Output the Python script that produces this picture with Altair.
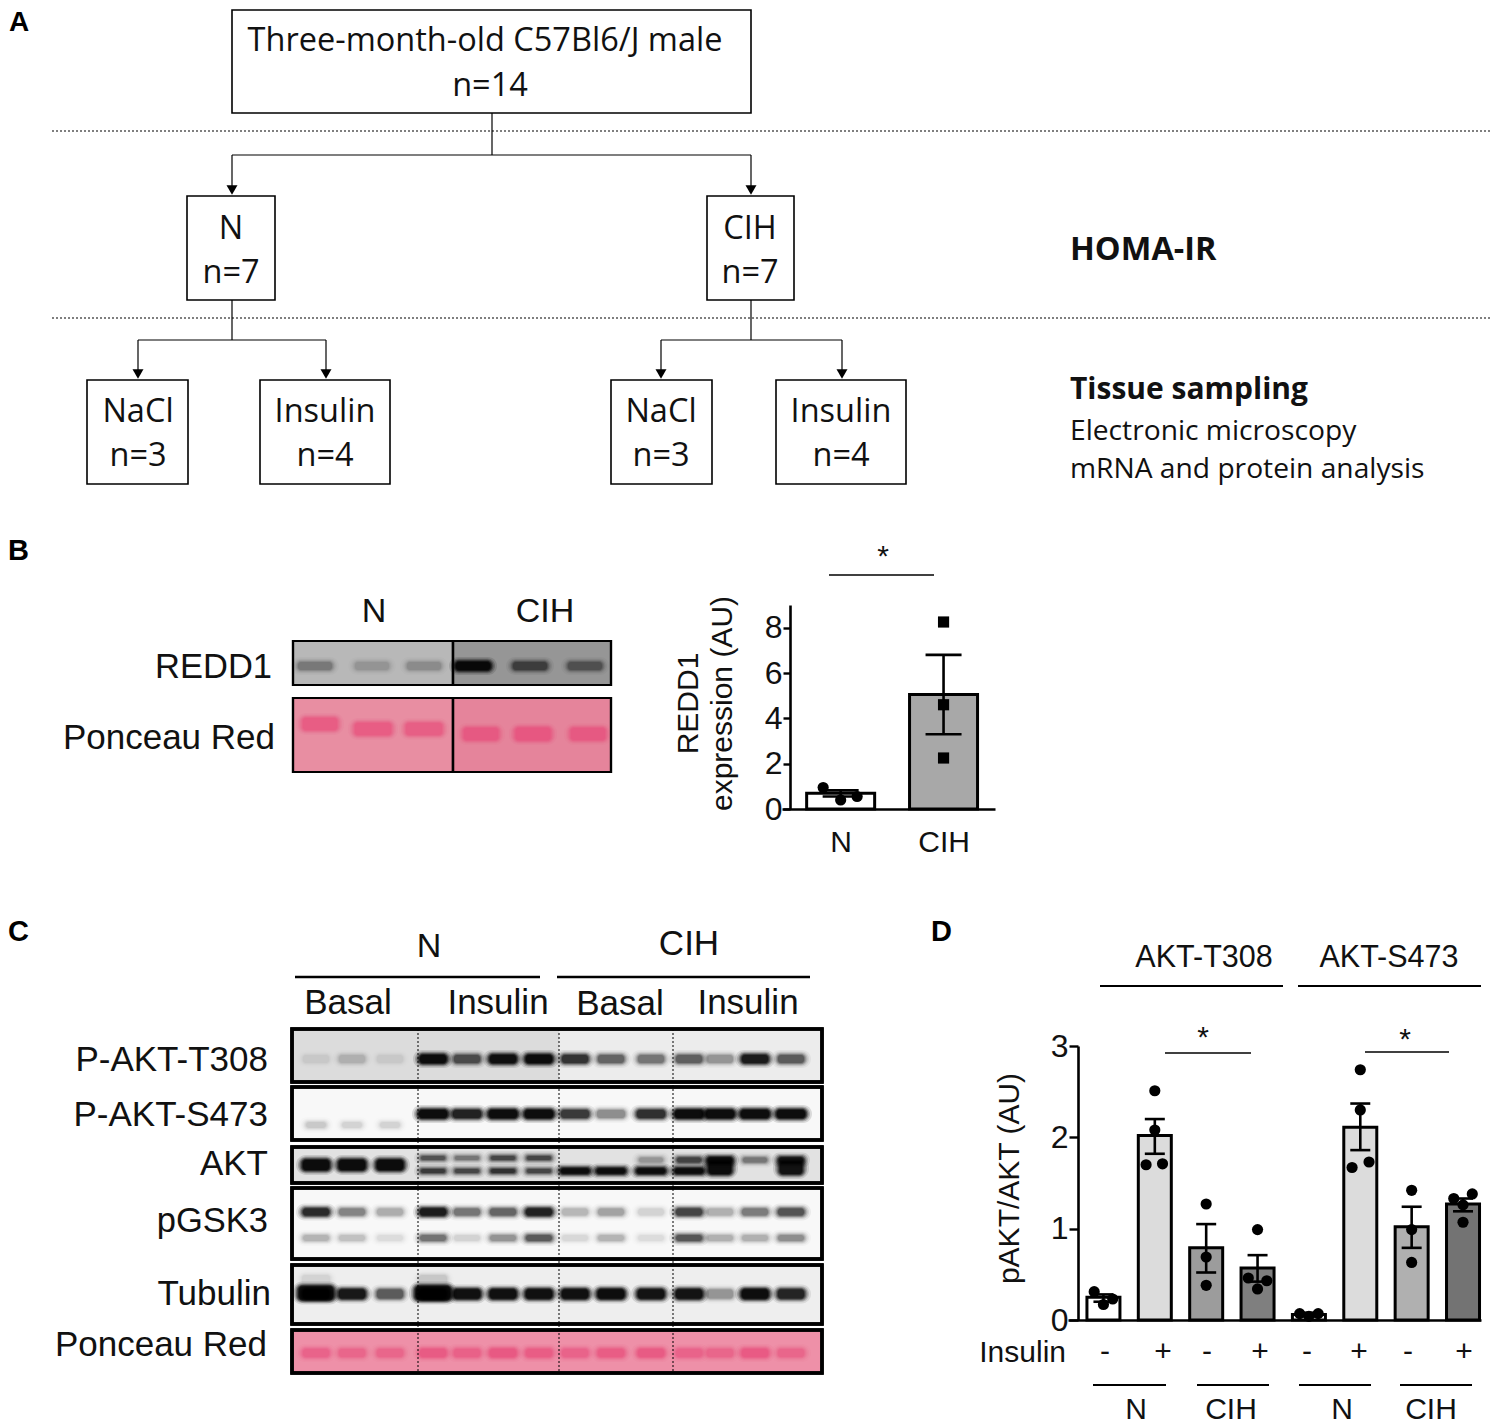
import altair as alt
import pandas as pd

SANS = "Liberation Sans"
FLOW = "Open Sans"

# ---------- panel B values
b_groups = [0, 1]
b_means = [0.7, 5.05]
b_low = [0.55, 3.3]
b_high = [0.82, 6.8]
b_fill = ["#ffffff", "#a8a8a8"]
b_n_x = [-0.17, 0.0, 0.16]
b_n_y = [0.95, 0.4, 0.55]
b_cih_x = [1, 1, 1]
b_cih_y = [8.25, 4.6, 2.25]

# ---------- panel D values
d_groups = list(range(8))
d_means = [0.25, 2.02, 0.79, 0.57, 0.06, 2.11, 1.02, 1.27]
d_low = [0.2, 1.82, 0.52, 0.42, 0.04, 1.86, 0.79, 1.19]
d_high = [0.28, 2.2, 1.05, 0.71, 0.08, 2.37, 1.24, 1.33]
d_fill = ["#ffffff", "#dcdcdc", "#9c9c9c", "#7f7f7f", "#ffffff", "#dcdcdc", "#b0b0b0", "#737373"]
d_pts_x = [-0.18, 0, 0.18, 1, 1, 0.83, 1.15, 2, 2, 2, 3, 2.82, 3.18, 3, 3.82, 4, 4.18,
           5, 5, 4.84, 5.17, 6, 6, 6, 6.82, 7.18, 7, 7]
d_pts_y = [0.31, 0.17, 0.23, 2.51, 2.08, 1.70, 1.71, 1.27, 0.69, 0.38, 0.99, 0.46, 0.43, 0.34,
           0.07, 0.04, 0.07, 2.74, 2.30, 1.67, 1.73, 1.42, 0.99, 0.63, 1.33, 1.38, 1.26, 1.07]

# ---------- blot bands: lane intensities per antibody
c_lanes = [316, 352, 390, 433, 467, 503, 539, 575, 611, 651, 689, 720, 755, 791]
b_lanes = [315, 372, 424, 473, 530, 585]
blots = [
    # y, height, width, colour, lanes, intensity
    (666, 8, 34, "#000000", b_lanes, [0.18, 0.09, 0.12, 1.0, 0.38, 0.27]),
    (724, 12, 34, "#e8527f", [320], [0.65]),
    (729, 12, 36, "#e8527f", [373, 424], [0.65, 0.6]),
    (734, 12, 34, "#e8527f", [481, 533, 588], [0.7, 0.85, 0.7]),
    (1059, 8, 26, "#000000", c_lanes, [0.04, 0.1, 0.04, 1.0, 0.45, 0.95, 1.0, 0.6, 0.36, 0.3, 0.38, 0.2, 0.8, 0.4]),
    (1114, 8, 28, "#000000", c_lanes, [0.0, 0.0, 0.0, 1.0, 0.75, 1.0, 1.0, 0.58, 0.24, 0.64, 1.0, 1.0, 1.0, 1.0]),
    (1125, 6, 20, "#000000", c_lanes[:3], [0.09, 0.07, 0.07]),
    (1165, 10, 26, "#000000", c_lanes[:3], [1.0, 1.0, 1.0]),
    (1158, 4, 24, "#000000", c_lanes[3:7], [0.42, 0.28, 0.48, 0.48]),
    (1171, 4, 24, "#000000", c_lanes[3:7], [0.55, 0.48, 0.6, 0.48]),
    (1171, 5, 28, "#000000", c_lanes[7:11], [1.0, 1.0, 1.0, 1.0]),
    (1160, 5, 24, "#000000", c_lanes[9:], [0.18, 0.5, 1.0, 0.28, 0.85]),
    (1168, 12, 22, "#000000", [720, 791], [1.0, 0.9]),
    (1212, 7, 26, "#000000", c_lanes, [0.68, 0.27, 0.16, 0.82, 0.32, 0.38, 0.75, 0.13, 0.18, 0.07, 0.52, 0.15, 0.3, 0.45]),
    (1238, 6, 26, "#000000", c_lanes, [0.14, 0.11, 0.05, 0.33, 0.07, 0.22, 0.42, 0.06, 0.14, 0.05, 0.44, 0.15, 0.15, 0.24]),
    (1294, 9, 26, "#000000", c_lanes, [1.0, 0.85, 0.4, 1.0, 0.95, 0.95, 0.95, 0.95, 1.0, 0.9, 0.9, 0.2, 1.0, 0.72]),
    (1293, 13, 34, "#000000", [316, 433], [0.9, 1.0]),
    (1280, 10, 28, "#000000", [316, 433], [0.05, 0.08]),
    (1353, 8, 26, "#e8527f", c_lanes, [0.5, 0.45, 0.45, 0.7, 0.55, 0.8, 0.65, 0.5, 0.65, 0.7, 0.5, 0.45, 0.75, 0.45]),
]

band_rows = []
for y, h, w, col, xs, ints in blots:
    for x, i in zip(xs, ints):
        if i > 0:
            band_rows.append({"cx": x, "cy": y, "h": h, "w": w, "c": col, "i": i})
bands = pd.DataFrame(band_rows)

# ---------- flow chart and blot frames
boxes = [
    (232, 751, 10, 113, "#ffffff", 1.6), (187, 275, 196, 300, "#ffffff", 1.6), (707, 794, 196, 300, "#ffffff", 1.6),
    (87, 188, 380, 484, "#ffffff", 1.6), (260, 390, 380, 484, "#ffffff", 1.6),
    (611, 712, 380, 484, "#ffffff", 1.6), (776, 906, 380, 484, "#ffffff", 1.6),
    (293, 453, 641, 685, "#b8b8b8", 2.2), (453, 611, 641, 685, "#969696", 2.2),
    (293, 453, 698, 772, "#e88ea2", 2.2), (453, 611, 698, 772, "#e5849b", 2.2),
    (292, 559, 1029, 1082, "#dcdcdc", 0), (559, 822, 1029, 1082, "#ececec", 0),
    (292, 822, 1029, 1082, "#00000000", 3.5), (292, 822, 1087, 1140, "#f8f8f8", 3.5),
    (292, 822, 1147, 1183, "#e2e2e2", 3.5), (292, 822, 1188, 1259, "#f8f8f8", 3.5),
    (292, 822, 1265, 1324, "#eeeeee", 3.5), (292, 822, 1330, 1373, "#ee90a8", 3.5),
]
lines = [
    (492, 492, 113, 155, 1.2), (232, 751, 155, 155, 1.2), (232, 232, 155, 190, 1.2), (751, 751, 155, 190, 1.2),
    (232, 232, 300, 340, 1.2), (138, 326, 340, 340, 1.2), (138, 138, 340, 372, 1.2), (326, 326, 340, 372, 1.2),
    (751, 751, 300, 340, 1.2), (661, 842, 340, 340, 1.2), (661, 661, 340, 372, 1.2), (842, 842, 340, 372, 1.2),
    (829, 934, 575, 575, 1.3),
    (295, 540, 977, 977, 2.5), (557, 810, 977, 977, 2.5),
    (1100, 1283, 986, 986, 2.2), (1298, 1481, 986, 986, 2.2),
    (1165, 1251, 1053, 1053, 1.3), (1365, 1449, 1052, 1052, 1.3),
    (1093, 1166, 1385, 1385, 2.2), (1197, 1269, 1385, 1385, 2.2), (1299, 1371, 1385, 1385, 2.2), (1400, 1472, 1385, 1385, 2.2),
]
dotted = [
    (52, 1490, 131, 131, 1.1), (52, 1490, 318, 318, 1.1),
    (418, 418, 1029, 1373, 1.0), (559, 559, 1029, 1373, 1.0), (673, 673, 1029, 1373, 1.0),
]
arrows = [(232, 190), (751, 190), (138, 374), (326, 374), (661, 374), (842, 374)]

flow_text = [
    ("Three-month-old C57Bl6/J male", 485, 41, 32.5), ("n=14", 490, 86, 32.5),
    ("N", 231, 229, 32.5), ("n=7", 231, 273, 32.5), ("CIH", 750, 229, 32.5), ("n=7", 750, 273, 32.5),
    ("NaCl", 138, 412, 32.5), ("n=3", 138, 456, 32.5), ("Insulin", 325, 412, 32.5), ("n=4", 325, 456, 32.5),
    ("NaCl", 661, 412, 32.5), ("n=3", 661, 456, 32.5), ("Insulin", 841, 412, 32.5), ("n=4", 841, 456, 32.5),
]
flow_left = [("Electronic microscopy", 1070, 432, 28.2), ("mRNA and protein analysis", 1070, 470, 28.2)]
flow_bold = [("HOMA-IR", 1070, 250, 32.5), ("Tissue sampling", 1070, 390, 30)]
letters = [("A", 9, 23, 28), ("B", 8, 551, 29), ("C", 8, 932, 29), ("D", 931, 932, 29)]
center_text = [
    ("*", 883, 557, 30), ("N", 374, 612, 34), ("CIH", 545, 612, 34),
    ("N", 429, 947, 34), ("CIH", 689, 944, 35),
    ("Basal", 348, 1003, 35), ("Insulin", 498, 1003, 35), ("Basal", 620, 1004, 35), ("Insulin", 748, 1003, 35),
    ("AKT-T308", 1204, 958, 30.5), ("AKT-S473", 1389, 958, 30.5),
    ("*", 1203, 1038, 30), ("*", 1405, 1040, 30),
    ("-", 1105, 1352, 30), ("+", 1163, 1352, 30), ("-", 1207, 1352, 30), ("+", 1260, 1352, 30),
    ("-", 1307, 1352, 30), ("+", 1359, 1352, 30), ("-", 1408, 1352, 30), ("+", 1464, 1352, 30),
    ("N", 1136, 1410, 30), ("CIH", 1231, 1410, 30), ("N", 1342, 1410, 30), ("CIH", 1431, 1410, 30),
]
right_text = [
    ("REDD1", 272, 668, 34.5), ("Ponceau Red", 275, 738, 35),
    ("P-AKT-T308", 268, 1060, 35), ("P-AKT-S473", 268, 1115, 35), ("AKT", 268, 1164, 35),
    ("pGSK3", 268, 1222, 34.5), ("Tubulin", 271, 1294, 35), ("Ponceau Red", 267, 1345, 35),
    ("Insulin", 1066, 1353, 30),
]

# ---------- canvas scales
H = 1418
CX = alt.Scale(domain=[8, 1492], range=[0, 1484], nice=False, zero=False)
CY = alt.Scale(domain=[8, 8 + H], range=[0, H], nice=False, zero=False)


def X(f):
    return alt.X(f + ":Q", scale=CX, axis=None)


def Y(f):
    return alt.Y(f + ":Q", scale=CY, axis=None)


def texts(rows, font, align="center", weight="normal", color="#111111"):
    df = pd.DataFrame(rows, columns=["t", "x", "y", "s"])
    return alt.Chart(df).mark_text(font=font, align=align, baseline="middle", fontWeight=weight, color=color).encode(
        x=X("x"), y=Y("y"), text="t:N", size=alt.Size("s:Q", scale=None))


box_df = pd.DataFrame(boxes, columns=["x", "x2", "y", "y2", "f", "sw"])
line_df = pd.DataFrame(lines, columns=["x", "x2", "y", "y2", "sw"])
dot_df = pd.DataFrame(dotted, columns=["x", "x2", "y", "y2", "sw"])
arrow_df = pd.DataFrame(arrows, columns=["x", "y"])

box_layer = alt.Chart(box_df).mark_rect(stroke="#000000").encode(
    x=X("x"), x2="x2:Q", y=Y("y"), y2="y2:Q",
    fill=alt.Fill("f:N", scale=None), strokeWidth=alt.StrokeWidth("sw:Q", scale=None))

line_layer = alt.Chart(line_df).mark_rule(color="#000000").encode(
    x=X("x"), x2="x2:Q", y=Y("y"), y2="y2:Q", strokeWidth=alt.StrokeWidth("sw:Q", scale=None))
dot_layer = alt.Chart(dot_df).mark_rule(color="#000000", strokeDash=[2, 2]).encode(
    x=X("x"), x2="x2:Q", y=Y("y"), y2="y2:Q", strokeWidth=alt.StrokeWidth("sw:Q", scale=None))
arrow_layer = alt.Chart(arrow_df).mark_point(shape="triangle-down", filled=True, color="#000000", size=120, opacity=1).encode(
    x=X("x"), y=Y("y"))

band_layers = []
for grow, a in [(7, 0.12), (5, 0.2), (3.5, 0.3), (2.2, 0.42), (1, 0.5), (0, 0.6)]:
    band_layers.append(
        alt.Chart(bands).transform_calculate(
            x0=f"datum.cx - datum.w/2 - {grow}", x1=f"datum.cx + datum.w/2 + {grow}",
            y0=f"datum.cy - datum.h/2 - {grow * 0.7}", y1=f"datum.cy + datum.h/2 + {grow * 0.7}",
            o=f"datum.i * {a}",
        ).mark_rect(cornerRadius=3 + grow).encode(
            x=X("x0"), x2="x1:Q", y=Y("y0"), y2="y1:Q",
            fill=alt.Fill("c:N", scale=None), opacity=alt.Opacity("o:Q", scale=None))
    )

frame_df = box_df[(box_df["f"] != "#ffffff") & (box_df["sw"] > 0)]
frame_layer = alt.Chart(frame_df).mark_rect(stroke="#000000", fillOpacity=0).encode(
    x=X("x"), x2="x2:Q", y=Y("y"), y2="y2:Q", strokeWidth=alt.StrokeWidth("sw:Q", scale=None))

canvas = [
    box_layer, *band_layers, frame_layer, line_layer, dot_layer, arrow_layer,
    texts(flow_text, FLOW),
    texts(flow_left, FLOW, "left"),
    texts(flow_bold, FLOW, "left", "bold"),
    texts(letters, SANS, "left", "bold", "#000000"),
    texts(center_text, SANS),
    texts(right_text, SANS, "right"),
]

AXIS = dict(grid=False, domainColor="#000000", tickColor="#000000", labelColor="#111111",
            titleColor="#111111", labelFont=SANS, titleFont=SANS, titleFontWeight="normal")


def panel(groups, means, low, high, fills, px, py, shapes, xs, ys, bar_w, cap_w, pt, yaxis, xaxis):
    df = pd.DataFrame({"g": groups, "m": means, "lo": low, "hi": high, "f": fills})
    pts = pd.DataFrame({"g": px, "v": py, "sh": shapes})
    xe = alt.X("g:Q", scale=xs, axis=xaxis)
    ye = alt.Y("m:Q", scale=ys, axis=yaxis)
    xn = alt.X("g:Q", scale=xs, axis=None)
    bars = alt.Chart(df).mark_bar(size=bar_w, stroke="#000000", strokeWidth=3).encode(
        x=xe, y=ye, fill=alt.Fill("f:N", scale=None))
    errs = alt.Chart(df).mark_rule(color="#000000", strokeWidth=2.6).encode(
        x=xn, y=alt.Y("lo:Q", scale=ys, axis=None), y2="hi:Q")
    cap1 = alt.Chart(df).mark_tick(color="#000000", size=cap_w, thickness=2.6, orient="horizontal", opacity=1).encode(
        x=xn, y=alt.Y("lo:Q", scale=ys, axis=None))
    cap2 = alt.Chart(df).mark_tick(color="#000000", size=cap_w, thickness=2.6, orient="horizontal", opacity=1).encode(
        x=xn, y=alt.Y("hi:Q", scale=ys, axis=None))
    dots = alt.Chart(pts).mark_point(filled=True, color="#000000", opacity=1, size=pt).encode(
        x=xn, y=alt.Y("v:Q", scale=ys, axis=None), shape=alt.Shape("sh:N", scale=None))
    return [bars, errs, cap1, cap2, dots]


# panel B : y axis at x=790, baseline at y=809
b_x = alt.Scale(domain=[-0.57, 1.5], range=[782 - 8, 995 - 8], nice=False, zero=False, padding=0)
b_y = alt.Scale(domain=[0, 9], range=[809 - 8, 605 - 8], nice=False, zero=False)
b_yaxis = alt.Axis(orient="left", offset=-(790 - 8), values=[0, 2, 4, 6, 8], tickSize=7, tickWidth=2.4, domainWidth=2.6,
                   labelFontSize=32, labelPadding=1, format="d", title=["REDD1", "expression (AU)"],
                   titleFontSize=30, titleLineHeight=34, titleX=-87, titleY=695, **AXIS)
b_xaxis = alt.Axis(orient="bottom", offset=-(H - (809 - 8)), values=[0, 1], tickSize=0, domainWidth=2.6,
                   labelFontSize=30, labelPadding=18, labelExpr="datum.value == 0 ? 'N' : 'CIH'", title=None, **AXIS)
panel_b = panel(b_groups, b_means, b_low, b_high, b_fill,
                b_n_x + b_cih_x, b_n_y + b_cih_y, ["circle"] * 3 + ["square"] * 3,
                b_x, b_y, 68, 36, 125, b_yaxis, b_xaxis)

# panel D : y axis at x=1078, baseline at y=1320
d_x = alt.Scale(domain=[-0.69, 7.35], range=[1068 - 8, 1481 - 8], nice=False, zero=False, padding=0)
d_y = alt.Scale(domain=[0, 3], range=[1320 - 8, 1046 - 8], nice=False, zero=False)
d_yaxis = alt.Axis(orient="left", offset=-(1078 - 8), values=[0, 1, 2, 3], tickSize=9, tickWidth=2.4, domainWidth=2.6,
                   labelFontSize=32, labelPadding=1, format="d", title="pAKT/AKT (AU)",
                   titleFontSize=30, titleX=-54, titleY=1170, **AXIS)
d_xaxis = alt.Axis(orient="bottom", offset=-(H - (1320 - 8)), values=[0], tickSize=0, domainWidth=2.6,
                   labels=False, title=None, **AXIS)
panel_d = panel(d_groups, d_means, d_low, d_high, d_fill,
                d_pts_x, d_pts_y, ["circle"] * len(d_pts_x),
                d_x, d_y, 33, 20, 125, d_yaxis, d_xaxis)

chart = (
    alt.layer(*canvas, *panel_b, *panel_d)
    .resolve_scale(x="independent", y="independent")
    .properties(width=1484, height=H, padding=0, autosize=alt.AutoSizeParams(type="none"), background="#ffffff")
    .configure_view(stroke=None)
)

chart.save("out.html", embed_options={"renderer": "svg", "actions": False})
